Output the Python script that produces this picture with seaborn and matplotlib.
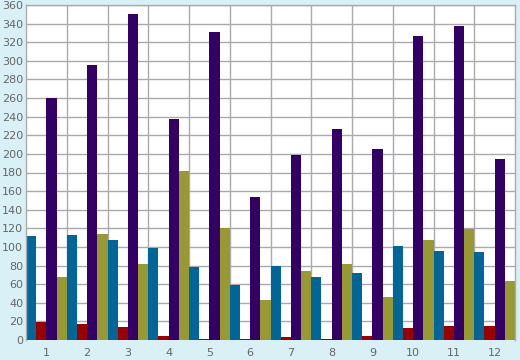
import numpy as np
import pandas as pd
import matplotlib
matplotlib.use("Agg")
import matplotlib.pyplot as plt
import seaborn as sns

groups = [str(i) for i in range(1, 13)]
blue = [111.8, 112.8, 107.5, 98.9, 78.4, 59, 79.5, 67.7, 72, 101, 95.6, 94.6]
red = [19.7, 17.2, 14, 4.3, 1.2, 1.2, 3.2, 1.2, 4.3, 12.9, 15, 15]
purple = [260, 295.5, 350.3, 237.5, 331, 153.7, 198.8, 226.7, 205, 326.7, 337.4, 194.5]
olive = [67.7, 113.9, 81.7, 181.6, 120.3, 43, 74, 81.7, 46, 107.5, 119.3, 63.4]

series_names = ["s1", "s2", "s3", "s4"]
colors = ["#006699", "#990000", "#330066", "#999933"]

df = pd.DataFrame({
    "group": groups * 4,
    "series": np.repeat(series_names, 12),
    "value": blue + red + purple + olive,
})

sns.set_style("white")
fig = plt.figure(figsize=(5.2, 3.6), dpi=100)
fig.patch.set_facecolor("#D9F0F7")
ax = fig.add_axes([26 / 520, 20 / 360, 489 / 520, 335 / 360])
ax.set_facecolor("white")

sns.barplot(data=df, x="group", y="value", hue="series", hue_order=series_names,
            palette=colors, width=1.0, gap=0, saturation=1, legend=False,
            linewidth=0, ax=ax)

ax.set_xlim(-0.5, 11.5)
ax.set_ylim(0, 360)
ax.set_yticks(range(0, 361, 20))
ax.set_xticks(range(12))
ax.set_xticks(np.arange(0.5, 11.5, 1), minor=True)
ax.set_axisbelow(True)
ax.yaxis.grid(True, color="#aaaaaa", linewidth=1)
ax.xaxis.grid(True, which="minor", color="#aaaaaa", linewidth=1)
ax.xaxis.grid(False, which="major")
ax.tick_params(axis="x", which="major", length=0, pad=6, labelsize=8, labelcolor="#666666")
ax.tick_params(axis="x", which="minor", length=5, color="#888888", width=1)
ax.tick_params(axis="y", length=0, pad=2, labelsize=8, labelcolor="#666666")
ax.set_xlabel("")
ax.set_ylabel("")
for s in ax.spines.values():
    s.set_color("#aaaaaa")
    s.set_linewidth(1)
ax.spines["bottom"].set_visible(False)

fig.savefig("out.png", dpi=100, facecolor=fig.get_facecolor())
